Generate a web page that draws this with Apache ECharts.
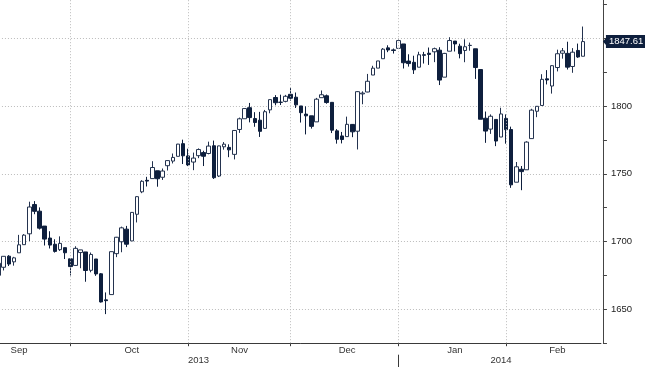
<!DOCTYPE html>
<html><head><meta charset="utf-8">
<script src="https://cdn.jsdelivr.net/npm/echarts@6/dist/echarts.min.js"></script>
<style>html,body{margin:0;padding:0;background:#fff}#c{width:645px;height:367px}</style>
</head><body><div id="c"></div>
<script>
// Trading days (S&P 500 daily candles)
const dates = [
'2013-09-10','2013-09-11','2013-09-12','2013-09-13','2013-09-16','2013-09-17','2013-09-18','2013-09-19','2013-09-20','2013-09-23','2013-09-24','2013-09-25','2013-09-26','2013-09-27','2013-09-30',
'2013-10-01','2013-10-02','2013-10-03','2013-10-04','2013-10-07','2013-10-08','2013-10-09','2013-10-10','2013-10-11','2013-10-14','2013-10-15','2013-10-16','2013-10-17','2013-10-18','2013-10-21','2013-10-22','2013-10-23','2013-10-24','2013-10-25','2013-10-28','2013-10-29','2013-10-30','2013-10-31',
'2013-11-01','2013-11-04','2013-11-05','2013-11-06','2013-11-07','2013-11-08','2013-11-11','2013-11-12','2013-11-13','2013-11-14','2013-11-15','2013-11-18','2013-11-19','2013-11-20','2013-11-21','2013-11-22','2013-11-25','2013-11-26','2013-11-27','2013-11-29',
'2013-12-02','2013-12-03','2013-12-04','2013-12-05','2013-12-06','2013-12-09','2013-12-10','2013-12-11','2013-12-12','2013-12-13','2013-12-16','2013-12-17','2013-12-18','2013-12-19','2013-12-20','2013-12-23','2013-12-24','2013-12-26','2013-12-27','2013-12-30','2013-12-31',
'2014-01-02','2014-01-03','2014-01-06','2014-01-07','2014-01-08','2014-01-09','2014-01-10','2014-01-13','2014-01-14','2014-01-15','2014-01-16','2014-01-17','2014-01-21','2014-01-22','2014-01-23','2014-01-24','2014-01-27','2014-01-28','2014-01-29','2014-01-30','2014-01-31',
'2014-02-03','2014-02-04','2014-02-05','2014-02-06','2014-02-07','2014-02-10','2014-02-11','2014-02-12','2014-02-13','2014-02-14','2014-02-18','2014-02-19','2014-02-20','2014-02-21','2014-02-24'
];
// Empty slots to the right of the last candle
const futureDates = ['2014-02-25','2014-02-26','2014-02-27'];

const open = [
1675.11,1681.04,1689.21,1685.04,1691.70,1697.73,1705.74,1727.34,1722.44,1711.44,1702.60,1698.02,1694.05,1695.52,1687.26,
1682.41,1691.90,1692.35,1678.79,1687.15,1676.22,1656.99,1660.88,1691.09,1699.86,1709.17,1700.49,1720.17,1736.72,1745.20,1746.48,1752.27,1747.48,1756.01,1759.42,1762.93,1772.27,1763.24,
1758.70,1763.40,1765.67,1765.00,1770.74,1748.37,1769.96,1769.51,1764.37,1782.75,1790.66,1798.82,1790.79,1789.59,1783.52,1797.21,1806.33,1802.87,1803.48,1808.69,
1806.55,1800.10,1794.08,1792.82,1788.36,1806.21,1807.60,1802.76,1781.71,1777.98,1777.48,1786.47,1781.46,1809.00,1810.39,1822.92,1828.02,1834.96,1842.97,1841.47,1842.61,
1845.86,1833.21,1832.31,1828.71,1837.90,1839.00,1840.06,1841.26,1821.36,1840.52,1847.99,1844.23,1841.05,1844.71,1842.29,1826.96,1791.03,1783.00,1790.15,1777.17,1790.88,
1782.68,1743.82,1753.38,1752.99,1776.01,1796.20,1800.45,1820.12,1814.82,1828.46,1839.03,1838.90,1829.24,1841.07,1836.78
];
const high = [
1684.09,1689.13,1689.97,1688.73,1704.95,1705.52,1729.44,1729.86,1725.23,1711.44,1707.63,1701.71,1703.85,1695.52,1687.26,
1696.55,1693.87,1692.35,1691.94,1687.15,1676.79,1662.47,1692.56,1703.44,1711.03,1711.57,1721.76,1733.45,1745.31,1747.79,1759.33,1752.27,1753.94,1759.82,1764.99,1772.09,1775.22,1768.53,
1765.67,1768.78,1767.03,1773.74,1774.54,1770.78,1773.44,1771.78,1782.00,1791.53,1798.22,1802.33,1795.51,1795.73,1797.16,1804.84,1808.10,1808.42,1808.27,1813.55,
1810.02,1800.10,1799.80,1792.82,1806.04,1811.52,1808.52,1802.97,1782.99,1780.92,1792.22,1786.77,1811.08,1810.88,1823.75,1829.75,1833.32,1842.84,1844.89,1842.47,1849.44,
1845.86,1838.24,1837.16,1840.10,1840.02,1843.23,1843.15,1843.45,1839.26,1850.84,1847.99,1846.04,1849.31,1846.87,1842.29,1826.96,1795.98,1793.87,1790.15,1798.77,1793.88,
1784.83,1758.73,1755.79,1774.06,1798.03,1799.94,1823.54,1826.55,1830.25,1841.65,1842.87,1847.50,1842.79,1846.13,1858.71
];
const low = [
1675.11,1678.70,1681.96,1682.22,1691.70,1697.73,1700.35,1720.20,1708.89,1697.10,1694.90,1691.88,1693.11,1687.11,1674.99,
1682.07,1680.34,1670.36,1677.33,1674.70,1655.03,1646.47,1660.88,1688.52,1692.13,1695.93,1700.49,1714.12,1735.74,1740.67,1746.48,1740.50,1745.50,1752.45,1757.67,1762.93,1757.24,1755.72,
1752.70,1761.56,1755.76,1764.40,1746.20,1747.63,1767.85,1762.29,1760.64,1780.22,1790.66,1788.00,1784.72,1777.23,1783.52,1794.70,1800.58,1800.77,1802.77,1803.98,
1798.60,1787.85,1779.09,1783.38,1788.36,1806.21,1801.75,1780.09,1772.28,1772.45,1777.48,1777.05,1767.99,1801.35,1810.25,1822.92,1828.02,1834.96,1839.81,1838.77,1842.41,
1827.74,1829.13,1823.73,1828.71,1831.40,1830.38,1832.43,1815.52,1821.36,1840.52,1840.30,1835.23,1832.38,1840.88,1820.06,1790.29,1772.88,1779.49,1770.45,1777.17,1772.26,
1739.66,1743.82,1737.92,1752.99,1776.01,1791.83,1800.41,1815.97,1809.22,1825.59,1835.01,1826.99,1824.58,1835.60,1836.78
];
const close = [
1683.99,1689.13,1683.42,1687.99,1697.60,1704.76,1725.52,1722.34,1709.91,1701.84,1697.42,1692.77,1698.67,1691.75,1681.55,
1695.00,1693.87,1678.66,1690.50,1676.12,1655.45,1656.40,1692.56,1703.20,1710.14,1698.06,1721.54,1733.15,1744.50,1744.66,1754.67,1746.38,1752.07,1759.77,1762.11,1771.95,1763.31,1756.54,
1761.64,1767.93,1762.97,1770.49,1747.15,1770.61,1771.89,1767.69,1782.00,1790.62,1798.18,1791.53,1787.87,1781.37,1795.85,1804.76,1802.48,1802.75,1807.23,1805.81,
1800.90,1795.15,1792.81,1785.03,1805.09,1808.37,1802.62,1782.22,1775.50,1775.32,1786.54,1781.00,1810.65,1809.60,1818.32,1827.99,1833.32,1842.02,1841.40,1841.07,1848.36,
1831.98,1831.37,1826.77,1837.88,1837.49,1838.13,1842.37,1819.20,1838.88,1848.38,1845.89,1838.70,1843.80,1844.86,1828.46,1790.29,1781.56,1792.50,1774.20,1794.19,1782.59,
1741.89,1755.20,1751.64,1773.43,1797.02,1799.84,1819.75,1819.26,1829.83,1838.63,1840.76,1828.75,1839.78,1836.25,1847.61
];

// Axis text
const monthNames = ['Jan','Feb','Mar','Apr','May','Jun','Jul','Aug','Sep','Oct','Nov','Dec'];
const monthLabelDays = ['2013-09-16','2013-10-16','2013-11-14','2013-12-16','2014-01-16','2014-02-14'];
const yearLabelDays = ['2013-11-04','2014-01-30'];
const yTickLabels = [1650, 1700, 1750, 1800];

const axisDates = dates.concat(futureDates);
const monthEnds = [];
for (let i = 0; i < dates.length - 1; i++) {
  if (dates[i].slice(0, 7) !== dates[i + 1].slice(0, 7)) monthEnds.push(i);
}
let yearEnd = -1;
for (let i = 0; i < dates.length - 1; i++) {
  if (dates[i].slice(0, 4) !== dates[i + 1].slice(0, 4)) yearEnd = i;
}
const candles = open.map((o, i) => [o, close[i], low[i], high[i]]);
const lastClose = close[close.length - 1];

const FONT = '"Liberation Sans", Arial, sans-serif';
const NAVY = '#0e1f3d';
const gridDot = { color: '#bcbcbc', type: [1, 2], width: 1 };

const chart = echarts.init(document.getElementById('c'), null, { renderer: 'canvas' });
chart.setOption({
  animation: false,
  backgroundColor: '#ffffff',
  grid: { left: -4.06, top: 0, width: 605, height: 343.2, outerBoundsMode: 'none', containLabel: false },
  xAxis: [{
    type: 'category', data: axisDates, boundaryGap: true,
    axisLine: { show: true, lineStyle: { color: '#3a3a3a', width: 1 } },
    axisTick: { show: true, alignWithLabel: true, interval: (i) => monthEnds.includes(i), length: 3, lineStyle: { color: '#3a3a3a' } },
    axisLabel: { interval: (i, v) => monthLabelDays.includes(v), formatter: (v) => monthNames[+v.slice(5, 7) - 1], margin: 2, fontSize: 9.5, fontFamily: FONT, color: '#333' },
    splitLine: { show: false }
  }, {
    type: 'category', data: axisDates, boundaryGap: true, position: 'bottom', offset: 11.5,
    axisLine: { show: false },
    axisTick: { show: true, alignWithLabel: true, interval: (i) => i === yearEnd, length: 13, lineStyle: { color: '#3a3a3a' } },
    axisLabel: { interval: (i, v) => yearLabelDays.includes(v), formatter: (v) => v.slice(0, 4), margin: 1, fontSize: 9.5, fontFamily: FONT, color: '#333' },
    splitLine: { show: false }
  }],
  yAxis: {
    type: 'value', position: 'right', offset: 2, min: 1625, max: 1878.3, interval: 25,
    axisLine: { show: true, lineStyle: { color: '#444', width: 1 } },
    axisTick: { show: true, length: 4, lineStyle: { color: '#444' } },
    axisLabel: { formatter: (v) => (yTickLabels.includes(v) ? String(v) : ''), margin: 8, showMaxLabel: false, fontSize: 9.5, fontFamily: FONT, color: '#222' },
    splitLine: { show: true, showMaxLine: false, lineStyle: { color: ['rgba(0,0,0,0)', '#bcbcbc'], type: [1, 2], width: 1 } }
  },
  series: [{
    type: 'candlestick',
    data: candles,
    barWidth: 4,
    clip: false,
    itemStyle: { color: '#ffffff', color0: NAVY, borderColor: '#24334f', borderColor0: NAVY, borderWidth: 1 },
    markLine: {
      silent: true, symbol: 'none', animation: false,
      label: { show: false },
      lineStyle: gridDot,
      data: monthEnds.map((i) => ({ xAxis: dates[i] })).concat([{
        yAxis: lastClose,
        lineStyle: { color: 'rgba(0,0,0,0)', type: 'solid', width: 1 },
        label: { show: true, position: 'end', distance: 5, formatter: (p) => Number(p.value).toFixed(2),
          backgroundColor: NAVY, color: '#ffffff', padding: [2, 4, 1, 3], fontSize: 9.5, fontFamily: FONT }
      }])
    },
    markPoint: {
      silent: true, animation: false,
      data: [{ coord: [axisDates[axisDates.length - 1], lastClose], symbol: 'triangle', symbolSize: [11, 5], symbolRotate: 90, symbolOffset: [7, 0],
        itemStyle: { color: NAVY }, label: { show: false } }]
    }
  }]
});
</script>
</body></html>
